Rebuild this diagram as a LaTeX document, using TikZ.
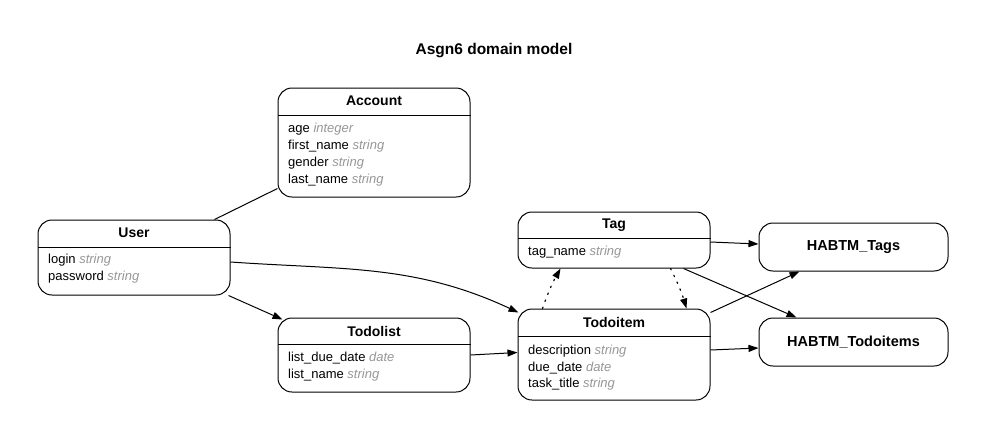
\documentclass[tikz,border=0pt]{standalone}
\usepackage{fontspec}
\setmainfont{Liberation Sans}
\usetikzlibrary{arrows.meta}
\definecolor{typegray}{RGB}{150,150,150}
\newcommand{\typ}[1]{{\color{typegray}\itshape #1}}
\tikzset{
  entity/.style={draw, line width=1pt, rounded corners=14pt, inner sep=0pt},
  etitle/.style={font=\fontsize{14}{16}\selectfont\bfseries, inner sep=0pt},
  habtm/.style={entity, minimum width=189pt, minimum height=48pt, font=\fontsize{14.5}{16}\selectfont\bfseries},
  attr/.style={font=\fontsize{13}{15}\selectfont, inner sep=0pt, anchor=base west},
  conn/.style={line width=1pt, -{Triangle[length=10pt,width=7pt]}},
  plain/.style={line width=1pt},
  dotconn/.style={line width=1.2pt, dash pattern=on 1.5pt off 6pt, line cap=round, -{Triangle[length=10pt,width=7pt]}},
  hline/.style={line width=1pt}
}
\begin{document}
\begin{tikzpicture}[x=1pt,y=-1pt]
\useasboundingbox (0,0) rectangle (989,440);
\node[font=\fontsize{15.5}{17}\selectfont\bfseries] (title) at (494,51) {Asgn6 domain model};

% Account
\node[entity, minimum width=192pt, minimum height=109pt] (account) at (374,142.5) {};
\draw[hline] (account.west |- 0,115) -- (account.east |- 0,115);
\node[etitle] (accountT) at (374,101) {Account};
\node[attr] (a1) at (288,132.5) {age \typ{integer}};
\node[attr] (a2) at (288,149.5) {first\_name \typ{string}};
\node[attr] (a3) at (288,166.5) {gender \typ{string}};
\node[attr] (a4) at (288,183.5) {last\_name \typ{string}};

% User
\node[entity, minimum width=192pt, minimum height=75pt] (user) at (134,257.5) {};
\draw[hline] (user.west |- 0,247) -- (user.east |- 0,247);
\node[etitle] (userT) at (134,233) {User};
\node[attr] (u1) at (48,263.5) {login \typ{string}};
\node[attr] (u2) at (48,280.5) {password \typ{string}};

% Tag
\node[entity, minimum width=192pt, minimum height=56pt] (tag) at (614,240) {};
\draw[hline] (tag.west |- 0,238) -- (tag.east |- 0,238);
\node[etitle] (tagT) at (614,225) {Tag};
\node[attr] (t1) at (528,255.5) {tag\_name \typ{string}};

% Todoitem
\node[entity, minimum width=192pt, minimum height=91pt] (todoitem) at (614,354.5) {};
\draw[hline] (todoitem.west |- 0,336) -- (todoitem.east |- 0,336);
\node[etitle] (todoitemT) at (614,322) {Todoitem};
\node[attr] (i1) at (528,354.5) {description \typ{string}};
\node[attr] (i2) at (528,371) {due\_date \typ{date}};
\node[attr] (i3) at (528,387.5) {task\_title \typ{string}};

% Todolist
\node[entity, minimum width=192pt, minimum height=74pt] (todolist) at (374,355) {};
\draw[hline] (todolist.west |- 0,344) -- (todolist.east |- 0,344);
\node[etitle] (todolistT) at (374,331) {Todolist};
\node[attr] (l1) at (288,361.5) {list\_due\_date \typ{date}};
\node[attr] (l2) at (288,378.5) {list\_name \typ{string}};

% HABTM
\node[habtm] (habtmTags) at (853.5,247) {HABTM\_Tags};
\node[habtm] (habtmTodo) at (853.5,342) {HABTM\_Todoitems};

% connectors
\draw[plain] ([xshift=-16pt]user.north east) -- ([yshift=9pt]account.south west);
\draw[conn] ([yshift=-4.5pt]user.east) to[out=-4,in=155] ([xshift=1pt,yshift=-4pt]todoitem.north west);
\draw[conn] ([xshift=-2pt]user.south east) -- ([xshift=5pt,yshift=-2pt]todolist.north west);
\draw[conn] (todolist.east) -- ([yshift=2pt]todoitem.west);
\draw[dotconn] ([xshift=25pt]todoitem.north west) to[bend left=5] ([xshift=43pt]tag.south west);
\draw[dotconn] ([xshift=-40pt]tag.south east) to[bend left=5] ([xshift=-24pt]todoitem.north east);
\draw[conn] ([yshift=-2pt]tag.east) -- ([yshift=3pt]habtmTags.west);
\draw[conn] ([xshift=-27pt]tag.south east) -- ([xshift=38pt]habtmTodo.north west);
\draw[conn] ([yshift=-4pt]todoitem.north east) -- ([xshift=41pt]habtmTags.south west);
\draw[conn] ([yshift=4.5pt]todoitem.east) -- ([yshift=-6pt]habtmTodo.west);
\end{tikzpicture}
\end{document}
